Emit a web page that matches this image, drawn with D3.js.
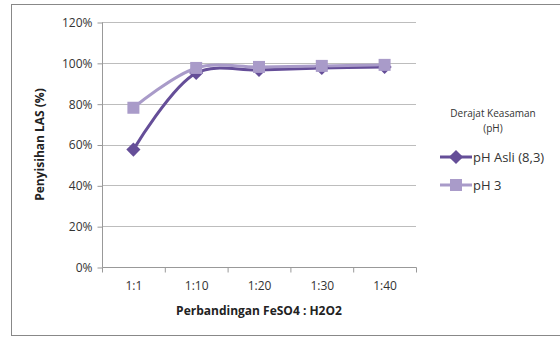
<!DOCTYPE html>
<html><head><meta charset="utf-8">
<script src="https://cdn.jsdelivr.net/npm/d3@7"></script>
<style>body{margin:0;background:#fff}svg{display:block}</style>
</head><body>
<script>
const categories = ["1:1","1:10","1:20","1:30","1:40"];
const phAsli = [0.575, 0.95, 0.965, 0.975, 0.98];
const ph3 = [0.78, 0.975, 0.98, 0.985, 0.99];
const yTicks = [0, 0.2, 0.4, 0.6, 0.8, 1.0, 1.2];
const seriesNames = ["pH Asli (8,3)", "pH 3"];

const W = 560, H = 338;
const svg = d3.select("body").append("svg").attr("width", W).attr("height", H);
const font = "'Open Sans', 'Liberation Sans', sans-serif";

svg.append("rect").attr("x", 11.5).attr("y", 4.5).attr("width", 600).attr("height", 331)
  .attr("fill", "#fff").attr("stroke", "#888").attr("stroke-width", 1);

const m = {l: 102, r: 416, t: 22, b: 267};
const x = d3.scaleBand().domain(categories).range([m.l, m.r]);
const y = d3.scaleLinear().domain([0, 1.2]).range([m.b, m.t]);

svg.append("g").selectAll("line").data(yTicks.slice(1)).join("line")
  .attr("x1", m.l).attr("x2", m.r).attr("y1", d => Math.round(y(d)) + 0.5).attr("y2", d => Math.round(y(d)) + 0.5)
  .attr("stroke", "#bdbdbd").attr("stroke-width", 1);

const ya = svg.append("g").attr("transform", `translate(${m.l + 0.5},0.5)`)
  .call(d3.axisLeft(y).tickValues(yTicks).tickFormat(d3.format(".0%")).tickSize(5).tickPadding(5));
ya.selectAll("text").attr("font-family", font).attr("font-size", 12).attr("fill", "#333");
ya.selectAll("line,path").attr("stroke", "#999");
ya.select(".domain").attr("d", `M0,${m.t}V${m.b}`);

const xa = svg.append("g").attr("transform", `translate(0.5,${m.b + 0.5})`)
  .call(d3.axisBottom(x).tickSize(0).tickPadding(14));
xa.selectAll("text").attr("font-family", font).attr("font-size", 12).attr("fill", "#333");
xa.select(".domain").attr("stroke", "#999").attr("d", `M${m.l},0H${m.r}`);
xa.append("g").selectAll("line").data(d3.range(categories.length + 1)).join("line")
  .attr("x1", i => m.l + i * x.bandwidth()).attr("x2", i => m.l + i * x.bandwidth())
  .attr("y1", 0).attr("y2", 5).attr("stroke", "#999");

const cx = d => x(d) + x.bandwidth() / 2;
const line = d3.line().x((d, i) => cx(categories[i])).y(d => y(d)).curve(d3.curveCatmullRom.alpha(0.5));

const colors = ["#654e98", "#a99bc9"];
const data = [phAsli, ph3];

function marker(g, s, px, py) {
  if (s === 0) {
    g.append("rect").attr("x", -5).attr("y", -5).attr("width", 10).attr("height", 10)
      .attr("transform", `translate(${px},${py}) rotate(45)`).attr("fill", colors[s]);
  } else {
    g.append("rect").attr("x", px - 6).attr("y", py - 6).attr("width", 12).attr("height", 12).attr("fill", colors[s]);
  }
}

data.forEach((vals, s) => {
  svg.append("path").attr("d", line(vals)).attr("fill", "none")
    .attr("stroke", colors[s]).attr("stroke-width", 3);
});
data.forEach((vals, s) => {
  const g = svg.append("g");
  vals.forEach((v, i) => marker(g, s, cx(categories[i]), y(v)));
});

svg.append("text").attr("x", 259).attr("y", 315).attr("text-anchor", "middle")
  .attr("font-family", font).attr("font-size", 12).attr("font-weight", "bold").attr("fill", "#222")
  .text("Perbandingan FeSO4 : H2O2");
svg.append("text").attr("transform", `translate(44,${(m.t + m.b) / 2}) rotate(-90)`).attr("text-anchor", "middle")
  .attr("font-family", font).attr("font-size", 12).attr("font-weight", "bold").attr("fill", "#222")
  .text("Penyisihan LAS (%)");

svg.append("text").attr("x", 493).attr("y", 117).attr("text-anchor", "middle")
  .attr("font-family", font).attr("font-size", 10).attr("fill", "#333").text("Derajat Keasaman");
svg.append("text").attr("x", 493).attr("y", 132).attr("text-anchor", "middle")
  .attr("font-family", font).attr("font-size", 10).attr("fill", "#333").text("(pH)");
seriesNames.forEach((n, s) => {
  const ly = 157 + s * 28;
  svg.append("line").attr("x1", 440).attr("x2", 472).attr("y1", ly).attr("y2", ly)
    .attr("stroke", colors[s]).attr("stroke-width", 3);
  marker(svg, s, 456, ly);
  svg.append("text").attr("x", 473).attr("y", ly + 5).attr("font-family", font).attr("font-size", 13)
    .attr("fill", "#333").text(n);
});
</script>
</body></html>
